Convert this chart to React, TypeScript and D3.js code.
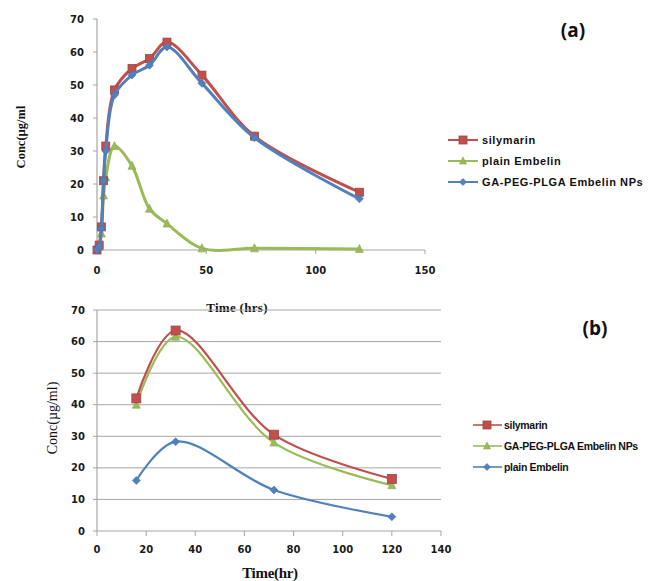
import React, { useEffect, useRef } from "react";
import * as d3 from "d3";

// ---- Panel (a) data ----
const timeA_sily = [0, 1, 2, 3, 4, 8, 16, 24, 32, 48, 72, 120];
const sily_A = [0, 1.5, 7, 21, 31.5, 48.5, 55, 58, 63, 53, 34.5, 17.5];
const timeA_plain = [0, 1, 2, 3, 4, 8, 16, 24, 32, 48, 72, 120];
const plain_A = [0, 1, 5, 16.5, 22, 31.5, 25.5, 12.5, 8, 0.5, 0.5, 0.3];
const timeA_np = [0, 1, 2, 3, 4, 8, 16, 24, 32, 48, 72, 120];
const np_A = [0, 1, 6.5, 21, 30, 47, 53, 56, 61.5, 50.5, 34, 15.5];
const xTicksA = [0, 50, 100, 150];
const yTicksA = [0, 10, 20, 30, 40, 50, 60, 70];

// ---- Panel (b) data ----
const timeB = [16, 32, 72, 120];
const sily_B = [42, 63.5, 30.5, 16.5];
const np_B = [40, 61.5, 28, 14.5];
const plain_B = [16, 28.3, 13, 4.5];
const xTicksB = [0, 20, 40, 60, 80, 100, 120, 140];
const yTicksB = [0, 10, 20, 30, 40, 50, 60, 70];

const RED = "#C0504D";
const GREEN = "#9BBB59";
const BLUE = "#4F81BD";
const AXIS = "#A6A6A6";
const TICKFONT = "'DejaVu Sans', Verdana, sans-serif";
const LEGFONT = "'Liberation Sans', Arial, sans-serif";
const SERIF = "'Liberation Serif', 'Times New Roman', serif";

type Series = { name: string; t: number[]; v: number[]; color: string; marker: "square" | "triangle" | "diamond" };

function drawMarker(g: any, kind: string, x: number, y: number, color: string, s: number) {
  if (kind === "square") {
    g.append("rect").attr("x", x - s / 2).attr("y", y - s / 2).attr("width", s).attr("height", s)
      .attr("fill", color).attr("stroke", d3.color(color)!.darker(0.5).toString()).attr("stroke-width", 0.8);
  } else if (kind === "triangle") {
    const h = s;
    g.append("path").attr("d", `M${x},${y - h / 2 - 1}L${x + s / 2 + 0.5},${y + h / 2}L${x - s / 2 - 0.5},${y + h / 2}Z`)
      .attr("fill", color).attr("stroke", d3.color(color)!.darker(0.3).toString()).attr("stroke-width", 0.6);
  } else {
    const r = s / 2 + 0.5;
    g.append("path").attr("d", `M${x},${y - r}L${x + r},${y}L${x},${y + r}L${x - r},${y}Z`)
      .attr("fill", color).attr("stroke", d3.color(color)!.darker(0.3).toString()).attr("stroke-width", 0.6);
  }
}

export default function App() {
  const ref = useRef<SVGSVGElement | null>(null);

  useEffect(() => {
    const svg = d3.select(ref.current);
    svg.selectAll("*").remove();
    svg.append("rect").attr("width", 659).attr("height", 581).attr("fill", "#fff");

    // ============ Panel (a) ============
    {
      const x = d3.scaleLinear().domain([0, 150]).range([97, 425]);
      const y = d3.scaleLinear().domain([0, 70]).range([250, 19]);
      const g = svg.append("g");
      g.append("line").attr("x1", x(0)).attr("x2", x(0)).attr("y1", y(70)).attr("y2", y(0)).attr("stroke", AXIS).attr("stroke-width", 1.2);
      g.append("line").attr("x1", x(0)).attr("x2", x(150)).attr("y1", y(0)).attr("y2", y(0)).attr("stroke", AXIS).attr("stroke-width", 1.2);
      yTicksA.forEach((t) => {
        g.append("line").attr("x1", x(0) - 4).attr("x2", x(0)).attr("y1", y(t)).attr("y2", y(t)).attr("stroke", AXIS);
        g.append("text").attr("x", x(0) - 13).attr("y", y(t)).attr("dy", "0.35em").attr("text-anchor", "end")
          .attr("font-family", TICKFONT).attr("font-weight", "bold").attr("font-size", 10).attr("fill", "#1a1a1a").text(t);
      });
      xTicksA.forEach((t) => {
        g.append("line").attr("x1", x(t)).attr("x2", x(t)).attr("y1", y(0)).attr("y2", y(0) + 4).attr("stroke", AXIS);
        g.append("text").attr("x", x(t)).attr("y", 274).attr("text-anchor", "middle")
          .attr("font-family", TICKFONT).attr("font-weight", "bold").attr("font-size", 10).attr("fill", "#1a1a1a").text(t);
      });
      const series: Series[] = [
        { name: "plain Embelin", t: timeA_plain, v: plain_A, color: GREEN, marker: "triangle" },
        { name: "silymarin", t: timeA_sily, v: sily_A, color: RED, marker: "square" },
        { name: "GA-PEG-PLGA Embelin NPs", t: timeA_np, v: np_A, color: BLUE, marker: "diamond" },
      ];
      const line = d3.line<[number, number]>().x((d) => x(d[0])).y((d) => y(d[1])).curve(d3.curveCatmullRom.alpha(0.5));
      series.forEach((s) => {
        const pts = s.t.map((t, i) => [t, s.v[i]] as [number, number]);
        g.append("path").attr("d", line(pts)).attr("fill", "none").attr("stroke", s.color).attr("stroke-width", 3);
        pts.forEach((p) => drawMarker(g, s.marker, x(p[0]), y(p[1]), s.color, s.marker === "square" ? 8 : 7));
      });
      const leg = [
        { name: "silymarin", color: RED, marker: "square" },
        { name: "plain Embelin", color: GREEN, marker: "triangle" },
        { name: "GA-PEG-PLGA Embelin NPs", color: BLUE, marker: "diamond" },
      ];
      leg.forEach((l, i) => {
        const ly = 140 + i * 21;
        g.append("line").attr("x1", 448).attr("x2", 478).attr("y1", ly).attr("y2", ly).attr("stroke", l.color).attr("stroke-width", 2);
        drawMarker(g, l.marker, 463, ly, l.color, l.marker === "square" ? 8 : 6);
        g.append("text").attr("x", 482).attr("y", ly).attr("dy", "0.35em").attr("font-family", LEGFONT)
          .attr("font-weight", "bold").attr("font-size", 11).attr("letter-spacing", 0.6).attr("fill", "#111").text(l.name);
      });
      g.append("text").attr("x", 573).attr("y", 37).attr("text-anchor", "middle").attr("font-family", "'Open Sans', sans-serif")
        .attr("font-weight", "bold").attr("font-size", 19).attr("fill", "#111").text("(a)");
      g.append("text").attr("transform", `translate(25,137) rotate(-90)`).attr("text-anchor", "middle")
        .attr("font-family", SERIF).attr("font-weight", "bold").attr("font-size", 12.5).attr("fill", "#111").text("Conc(µg/ml");
      g.append("text").attr("x", 237).attr("y", 312).attr("text-anchor", "middle").attr("font-family", SERIF)
        .attr("font-weight", "bold").attr("font-size", 13).attr("letter-spacing", 0.3).attr("fill", "#111").text("Time (hrs)");
    }

    // ============ Panel (b) ============
    {
      const x = d3.scaleLinear().domain([0, 140]).range([97, 441]);
      const y = d3.scaleLinear().domain([0, 70]).range([531, 310]);
      const g = svg.append("g");
      yTicksB.forEach((t) => {
        if (t > 0)
          g.append("line").attr("x1", x(0)).attr("x2", x(140)).attr("y1", y(t)).attr("y2", y(t)).attr("stroke", AXIS).attr("stroke-width", 1);
        g.append("line").attr("x1", x(0) - 4).attr("x2", x(0)).attr("y1", y(t)).attr("y2", y(t)).attr("stroke", AXIS);
        g.append("text").attr("x", x(0) - 12).attr("y", y(t)).attr("dy", "0.35em").attr("text-anchor", "end")
          .attr("font-family", TICKFONT).attr("font-weight", "bold").attr("font-size", 10).attr("fill", "#1a1a1a").text(t);
      });
      g.append("line").attr("x1", x(0)).attr("x2", x(0)).attr("y1", y(70)).attr("y2", y(0)).attr("stroke", AXIS).attr("stroke-width", 1.2);
      g.append("line").attr("x1", x(0)).attr("x2", x(140)).attr("y1", y(0)).attr("y2", y(0)).attr("stroke", AXIS).attr("stroke-width", 1.2);
      xTicksB.forEach((t) => {
        g.append("line").attr("x1", x(t)).attr("x2", x(t)).attr("y1", y(0)).attr("y2", y(0) + 5).attr("stroke", AXIS);
        g.append("text").attr("x", x(t)).attr("y", 553).attr("text-anchor", "middle")
          .attr("font-family", TICKFONT).attr("font-weight", "bold").attr("font-size", 10).attr("fill", "#1a1a1a").text(t);
      });
      const series: Series[] = [
        { name: "plain Embelin", t: timeB, v: plain_B, color: BLUE, marker: "diamond" },
        { name: "GA-PEG-PLGA Embelin NPs", t: timeB, v: np_B, color: GREEN, marker: "triangle" },
        { name: "silymarin", t: timeB, v: sily_B, color: RED, marker: "square" },
      ];
      const line = d3.line<[number, number]>().x((d) => x(d[0])).y((d) => y(d[1])).curve(d3.curveCatmullRom.alpha(0.5));
      series.forEach((s) => {
        const pts = s.t.map((t, i) => [t, s.v[i]] as [number, number]);
        g.append("path").attr("d", line(pts)).attr("fill", "none").attr("stroke", s.color).attr("stroke-width", 2.2);
        pts.forEach((p) => drawMarker(g, s.marker, x(p[0]), y(p[1]), s.color, s.marker === "square" ? 9 : 7));
      });
      const leg = [
        { name: "silymarin", color: RED, marker: "square" },
        { name: "GA-PEG-PLGA Embelin NPs", color: GREEN, marker: "triangle" },
        { name: "plain Embelin", color: BLUE, marker: "diamond" },
      ];
      leg.forEach((l, i) => {
        const ly = 425 + i * 21;
        g.append("line").attr("x1", 473).attr("x2", 502).attr("y1", ly).attr("y2", ly).attr("stroke", l.color).attr("stroke-width", 1.6);
        drawMarker(g, l.marker, 487, ly, l.color, l.marker === "square" ? 8 : 6);
        g.append("text").attr("x", 504).attr("y", ly).attr("dy", "0.35em").attr("font-family", LEGFONT)
          .attr("font-weight", "bold").attr("font-size", 10.5).attr("letter-spacing", -0.3).attr("fill", "#111").text(l.name);
      });
      g.append("text").attr("x", 595).attr("y", 335).attr("text-anchor", "middle").attr("font-family", "'Open Sans', sans-serif")
        .attr("font-weight", "bold").attr("font-size", 19).attr("fill", "#111").text("(b)");
      g.append("text").attr("transform", `translate(57,418) rotate(-90)`).attr("text-anchor", "middle")
        .attr("font-family", SERIF).attr("font-size", 14).attr("fill", "#111").text("Conc(µg/ml)");
      g.append("text").attr("x", 270).attr("y", 578).attr("text-anchor", "middle").attr("font-family", SERIF)
        .attr("font-weight", "bold").attr("font-size", 15).attr("letter-spacing", -0.3).attr("fill", "#111").text("Time(hr)");
    }
  }, []);

  return <svg ref={ref} width={659} height={581} style={{ position: "absolute", left: 0, top: 0 }} />;
}
